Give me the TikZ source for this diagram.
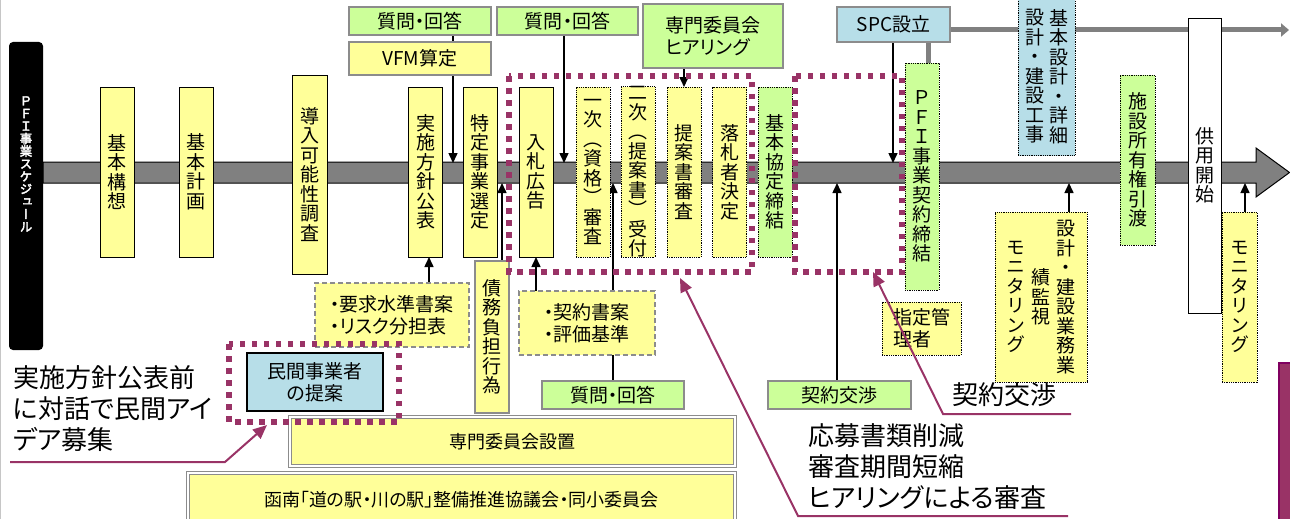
\documentclass[tikz,border=0pt]{standalone}
\usepackage{fontspec}
\setmainfont{Noto Sans CJK JP}[RawFeature=+palt]
\newfontfamily\vjp{Noto Sans CJK JP}[RawFeature=+vert]
\newfontfamily\vjpb{Noto Sans CJK JP}[RawFeature=+vert, FakeBold=3]
\usetikzlibrary{arrows.meta,backgrounds}
\definecolor{ybox}{HTML}{FFFF99}
\definecolor{gbox}{HTML}{CCFF99}
\definecolor{bbox}{HTML}{B7DEE8}
\definecolor{barg}{HTML}{808080}
\definecolor{pfp}{HTML}{993366}
\definecolor{pfdark}{HTML}{800060}
\definecolor{bordg}{HTML}{8C8C8C}
\newcommand\vst[1]{\ensuremath{\vcenter{\lineskiplimit=-10pt\let\\\cr\halign{\hfil##\hfil\cr#1\crcr}}}}
\tikzset{
  bx/.style={inner sep=0pt, outer sep=0pt},
  vfont/.style={font=\vjp\fontsize{19}{19.5}\selectfont},
  hfont/.style={font=\fontsize{19}{22}\selectfont},
  vyel/.style={bx, vfont, draw=black, line width=0.9pt, fill=ybox},
  dotline/.style={dash pattern=on 0.9pt off 0.9pt},
  vyeldot/.style={vyel, dotline},
  vgrndot/.style={vyel, dotline, fill=gbox},
  hgrn/.style={bx, hfont, draw=bordg, line width=1.5pt, fill=gbox},
  hyel/.style={bx, hfont, draw=bordg, line width=1.5pt, fill=ybox},
  hblue/.style={bx, hfont, draw=bordg, line width=1.5pt, fill=bbox},
  dashyel/.style={hyel, dash pattern=on 5pt off 3pt},
  dblyel/.style={bx, font=\fontsize{18}{22}\selectfont, draw=bordg, double=white, double distance=1.5pt, line width=1pt, fill=ybox},
  arr/.style={draw=black, line width=1.5pt, -{Triangle[length=10pt,width=9pt]}},
  parr/.style={draw=pfp, line width=2pt, -{Triangle[length=14pt,width=12pt]}},
  gline/.style={draw=barg, line width=5pt},
  pdot/.style={draw=pfp, line width=5.5pt, dash pattern=on 5.5pt off 6.5pt},
  anno/.style={font=\fontsize{26}{31}\selectfont, align=left, inner sep=0pt},
  mainv/.style={minimum width=34pt, minimum height=170pt}
}
\begin{document}
\begin{tikzpicture}[x=1pt,y=-1pt]
\useasboundingbox (0,0) rectangle (1290,519);
\draw[gray!45, line width=1pt] (0.8,0) -- (0.8,519);

% ---------- nodes ----------
\node[bx, fill=black, rounded corners=4pt, minimum width=34pt, minimum height=308pt, text=white,
      font=\vjpb\fontsize{12.5}{12.6}\selectfont] (sched) at (26,196)
      {\raisebox{29pt}[0pt][0pt]{\vst{Ｐ\\Ｆ\\Ｉ\\事\\業\\ス\\ケ\\ジ\\ュ\\ー\\ル}}};

\node[vyel, mainv] (k1) at (117,172) {\vst{基\\本\\構\\想}};
\node[vyel, mainv] (k2) at (196,172) {\vst{基\\本\\計\\画}};
\node[vyel, minimum width=35pt, minimum height=199pt] (k3) at (309.5,174.5) {\vst{導\\入\\可\\能\\性\\調\\査}};
\node[vyel, mainv] (k4) at (425.5,172) {\vst{実\\施\\方\\針\\公\\表}};
\node[vyel, mainv] (k5) at (480,172) {\vst{特\\定\\事\\業\\選\\定}};
\node[vyel, mainv] (k6) at (536,172) {\vst{入\\札\\広\\告}};
\node[vyeldot, mainv] (k7) at (593,172) {\vst{一\\次\\（\\資\\格\\）\\審\\査}};
\node[vyeldot, mainv] (k8) at (638,172) {\vst{二\\次\\（\\提\\案\\書\\）\\受\\付}};
\node[vyeldot, mainv] (k9) at (684,172) {\vst{提\\案\\書\\審\\査}};
\node[vyeldot, mainv] (k10) at (729.5,172) {\vst{落\\札\\者\\決\\定}};
\node[vgrndot, mainv] (k11) at (775,172) {\vst{基\\本\\協\\定\\締\\結}};
\node[vgrndot, minimum width=34pt, minimum height=227pt] (k12) at (922,176.5) {\vst{Ｐ\\Ｆ\\Ｉ\\事\\業\\契\\約\\締\\結}};
\node[vyeldot, fill=bbox, minimum width=57pt, minimum height=158pt] (k13) at (1046.5,76.5)
  {\vst{設\\計\\・\\建\\設\\工\\事}\hspace{5pt}\vst{基\\本\\設\\計\\・\\詳\\細}};
\node[vgrndot, minimum width=35pt, minimum height=170pt] (k14) at (1137.5,160) {\vst{施\\設\\所\\有\\権\\引\\渡}};
\node[vyel, fill=white, minimum width=33pt, minimum height=295pt] (k15) at (1204.5,165.5) {\vst{供\\用\\開\\始}};
\node[vyeldot, minimum width=35pt, minimum height=170pt] (k16) at (1239.5,297) {\vst{モ\\ニ\\タ\\リ\\ン\\グ}};
\node[vyeldot, minimum width=92pt, minimum height=170pt] (k17) at (1041,297)
  {\vst{モ\\ニ\\タ\\リ\\ン\\グ}\hspace{6pt}\vst{績\\監\\視}\hspace{6pt}\vst{設\\計\\・\\建\\設\\業\\務\\業}};

\node[hgrn, minimum width=142pt, minimum height=28pt] (qa1) at (420,21) {質問・回答};
\node[hyel, minimum width=142pt, minimum height=33pt] (vfm) at (420,58.5) {VFM算定};
\node[hgrn, minimum width=141pt, minimum height=28pt] (qa2) at (567.5,21) {質問・回答};
\node[hgrn, minimum width=140pt, minimum height=64pt, align=left] (hear) at (713,36) {専門委員会\\ヒアリング};
\node[hblue, minimum width=113pt, minimum height=35pt] (spc) at (893.5,24.5) {SPC設立};

\node[dashyel, minimum width=154pt, minimum height=64pt, align=left] (req) at (392,315) {・要求水準書案\\・リスク分担表};
\node[vyel, draw=bordg, line width=1.5pt, minimum width=34pt, minimum height=152pt] (debt) at (492,337) {\vst{債\\務\\負\\担\\行\\為}};
\node[dashyel, minimum width=136pt, minimum height=64pt, align=left] (cont) at (587,323) {・契約書案\\・評価基準};
\node[hgrn, minimum width=142pt, minimum height=28pt] (qa3) at (613,395) {質問・回答};
\node[hgrn, minimum width=143pt, minimum height=28pt] (nego) at (839.5,395) {契約交渉};
\node[hyel, draw=black, line width=0.9pt, dotline, minimum width=79pt, minimum height=53pt, align=left] (shitei) at (921.5,328.5) {指定管\\理者};
\node[hblue, draw=black, minimum width=136pt, minimum height=58pt, align=center] (minkan) at (315,382) {民間事業者\\の提案};
\node[dblyel, minimum width=445pt, minimum height=49pt] (senmon) at (512.5,441.5) {専門委員会設置};
\node[dblyel, minimum width=547pt, minimum height=54pt] (kannami) at (461.5,500) {函南「道の駅・川の駅」整備推進協議会・同小委員会};

% ---------- coordinates ----------
\coordinate (b1) at (453,163);
\coordinate (b2) at (564,163);
\coordinate (b4) at (893,163);
\coordinate (b6) at (502,183);
\coordinate (b8) at (613,183);
\coordinate (b9) at (837,183);
\coordinate (b10) at (1069,183);
\coordinate (b11) at (1245,183);
\coordinate (c5) at (429,257);
\coordinate (g1) at (928,0);
\coordinate (g2) at (1289,30);

% ---------- background: bar and connectors ----------
\begin{pgfonlayer}{background}
\draw[fill=barg, draw=black, line width=1pt] (43,162) -- (1256,162) -- (1256,148) -- (1289.5,172.5)
   -- (1256,197) -- (1256,183) -- (43,183) -- cycle;
\draw[gline] (spc.south -| g1) -- (k12.north -| g1);
\draw[gline, -{Triangle[length=8pt,width=13pt]}] (spc.east |- g2) -- (g2);
\draw[arr] (qa1.south -| b1) -- (b1);
\draw[arr] (qa2.south -| b2) -- (b2);
\draw[arr] (hear.south -| k9.north) -- (k9.north);
\draw[arr] (spc.south -| b4) -- (b4);
\draw[arr] (req.north -| c5) -- (c5);
\draw[arr] (debt.north -| b6) -- (b6);
\draw[arr] (cont.north -| k6.south) -- (k6.south);
\draw[arr] (qa3.north -| b8) -- (b8);
\draw[arr] (nego.north -| b9) -- (b9);
\draw[arr] (k17.north -| b10) -- (b10);
\draw[arr] (k16.north -| b11) -- (b11);
\end{pgfonlayer}

% ---------- purple dotted frames ----------
\draw[pdot] (229,344) rectangle (399,422);
\draw[pdot] (509,76) rectangle (752,272);
\draw[pdot] (795,76) rectangle (902,272);

% right edge box
\draw[draw=pfdark, fill=pfp, line width=1.5pt] (1279,363) rectangle (1300,530);

% ---------- annotations ----------
\node[anno, anchor=west] (t1) at (13,409) {実施方針公表前\\に対話で民間アイ\\デア募集};
\coordinate (p1a) at (10,462);
\coordinate (p1b) at (225,462);
\coordinate (p1t) at (267,425);
\draw[parr] (p1a) -- (p1b) -- (p1t);

\node[anno, anchor=west] (t2) at (808,467) {応募書類削減\\審査期間短縮\\ヒアリングによる審査};
\coordinate (p2a) at (1068,516);
\coordinate (p2b) at (798,516);
\coordinate (p2t) at (680,278);
\draw[parr] (p2a) -- (p2b) -- (p2t);

\node[anno, anchor=west] (t3) at (952,395) {契約交渉};
\coordinate (p3a) at (1071,414);
\coordinate (p3b) at (943,414);
\coordinate (p3t) at (873,272);
\draw[parr] (p3a) -- (p3b) -- (p3t);
\end{tikzpicture}
\end{document}
